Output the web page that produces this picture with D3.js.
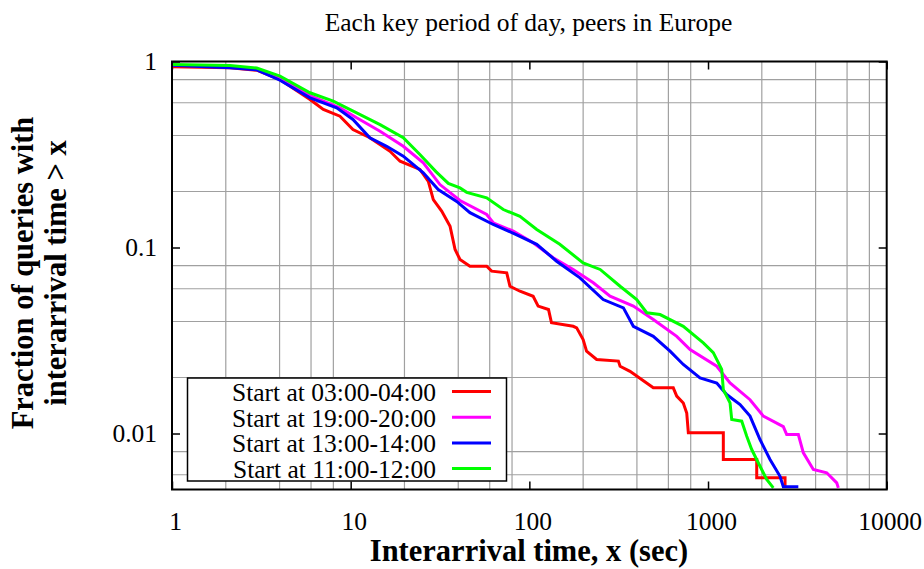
<!DOCTYPE html>
<html>
<head>
<meta charset="utf-8">
<script src="https://cdn.jsdelivr.net/npm/d3@7"></script>
<style>
  html, body { margin: 0; padding: 0; background: #fff; }
  svg { display: block; }
  text { font-family: "Liberation Serif", "Times New Roman", serif; fill: #000; }
</style>
</head>
<body>
<svg id="chart" width="924" height="569"></svg>
<script>
// ---- data ----
const seriesNames = [
  "Start at 03:00-04:00",
  "Start at 19:00-20:00",
  "Start at 13:00-14:00",
  "Start at 11:00-12:00"
];
const seriesColors = ["#ff0000", "#ff00ff", "#0000ff", "#00ff00"];

const red0304 = [[1,0.936],[2.11,0.925],[2.98,0.898],[4.02,0.80],[5.92,0.625],[7.03,0.552],[8.71,0.508],[10.3,0.431],[12.8,0.389],[16.6,0.329],[18.9,0.291],[24.4,0.263],[27.2,0.227],[29.0,0.181],[32.3,0.157],[36.0,0.130],[38.4,0.0976],[40.9,0.0862],[46.5,0.0793],[57.7,0.0793],[61.5,0.0746],[74.7,0.0731],[77.9,0.0619],[88.6,0.0582],[105,0.0547],[112,0.0484],[128,0.0464],[133,0.0394],[176,0.0377],[184,0.037],[200,0.032],[209,0.0277],[238,0.025],[315,0.0245],[322,0.023],[366,0.0216],[425,0.0195],[494,0.0176],[639,0.0176],[668,0.0159],[727,0.0146],[760,0.0129],[776,0.0101],[1218,0.0101],[1218,0.00725],[1873,0.00725],[1873,0.00578],[2698,0.00578],[2698,0.0051]];

const magenta1920 = [[1,0.955],[2.11,0.943],[2.98,0.911],[4.02,0.817],[5.92,0.656],[8.71,0.564],[10.8,0.498],[14.6,0.422],[19.7,0.35],[25.5,0.285],[31.6,0.218],[40.9,0.179],[57.7,0.1505],[62.8,0.1358],[81.3,0.1224],[105,0.106],[136,0.0881],[176,0.0762],[228,0.0646],[283,0.0547],[382,0.0484],[494,0.041],[668,0.0333],[793,0.0283],[1119,0.023],[1328,0.0187],[1718,0.0152],[2039,0.0124],[2639,0.0109],[2756,0.00988],[3202,0.00988],[3416,0.00787],[3885,0.0064],[4616,0.00615],[5253,0.00543],[5362,0.0051]];

const blue1314 = [[1,0.955],[2.11,0.925],[2.98,0.902],[4.02,0.793],[5.92,0.638],[8.35,0.564],[10.3,0.488],[12.8,0.389],[15.9,0.35],[19.7,0.31],[25.5,0.252],[30.9,0.205],[39.2,0.177],[46.5,0.154],[62.8,0.133],[85,0.117],[110,0.104],[142,0.0844],[192,0.0687],[259,0.0525],[336,0.0474],[382,0.0377],[494,0.0333],[613,0.0277],[727,0.0235],[902,0.0199],[1119,0.0187],[1272,0.0162],[1511,0.0143],[1718,0.0124],[1954,0.00928],[2223,0.00725],[2529,0.00589],[2639,0.00517],[3202,0.00517]];

const green1112 = [[1,0.964],[2.11,0.952],[2.98,0.923],[4.02,0.834],[5.92,0.679],[7.99,0.612],[10.8,0.53],[14.6,0.458],[19.7,0.389],[24.4,0.316],[30,0.256],[35.2,0.221],[40.9,0.209],[44.6,0.198],[57.7,0.185],[71.5,0.16],[88.6,0.147],[110,0.125],[148,0.104],[200,0.0827],[249,0.0762],[322,0.0619],[399,0.0525],[454,0.0446],[539,0.0436],[727,0.0377],[941,0.0307],[1070,0.0272],[1193,0.0221],[1218,0.0172],[1328,0.0146],[1357,0.0119],[1544,0.01165],[1647,0.00967],[1756,0.0082],[1954,0.00667],[2130,0.00566],[2320,0.0051]];

const seriesValues = [red0304, magenta1920, blue1314, green1112];

const xTickValues = [1, 10, 100, 1000, 10000];
const xTickLabels = ["1", "10", "100", "1000", "10000"];
const yTickValues = [0.01, 0.1, 1];
const yTickLabels = ["0.01", "0.1", "1"];
const gridMultiples = [2, 4, 6, 8];
const xDecades = [1, 10, 100, 1000];
const yDecades = [0.001, 0.01, 0.1];

const titleText = "Each key period of day, peers in Europe";
const xTitle = "Interarrival time, x (sec)";
const yTitleLines = ["Fraction of queries with", "interarrival time > x"];

// ---- layout ----
const L = 172, R = 886.7, T = 61.5, B = 489.5;
const svg = d3.select("#chart");

const x = d3.scaleLog().domain([1, 10000]).range([L, R]);
const y = d3.scaleLog().domain([0.005, 1]).range([B, T]);

// grid (at minor tick positions 2,4,6,8 of each decade)
const xGrid = [];
xDecades.forEach(d => gridMultiples.forEach(m => xGrid.push(d * m)));
const yGrid = [];
yDecades.forEach(d => gridMultiples.forEach(m => { const v = d * m; if (v >= 0.005 && v <= 1) yGrid.push(v); }));

const grid = svg.append("g").attr("stroke", "#a0a0a0").attr("stroke-width", 1.2);
grid.selectAll("line.gx").data(xGrid).join("line")
  .attr("x1", d => x(d)).attr("x2", d => x(d)).attr("y1", T).attr("y2", B);
grid.selectAll("line.gy").data(yGrid).join("line")
  .attr("x1", L).attr("x2", R).attr("y1", d => y(d)).attr("y2", d => y(d));

// axes (ticks inward, mirrored)
function styleAxis(g) {
  g.select(".domain").remove();
  g.selectAll(".tick line").attr("stroke", "#000").attr("stroke-width", 1.5);
  g.selectAll(".tick text").style("font-family", '"Liberation Serif", serif').style("font-size", "25.5px").attr("fill", "#000");
}
const xAxis = svg.append("g").attr("transform", `translate(0,${B})`)
  .call(d3.axisBottom(x).tickValues(xTickValues).tickSize(-8).tickPadding(22)
    .tickFormat((d, i) => xTickLabels[i]));
styleAxis(xAxis);
xAxis.selectAll(".tick text").attr("dx", 3);

const xAxisTop = svg.append("g").attr("transform", `translate(0,${T})`)
  .call(d3.axisTop(x).tickValues(xTickValues).tickSize(-8).tickFormat(""));
styleAxis(xAxisTop);

const yAxis = svg.append("g").attr("transform", `translate(${L},0)`)
  .call(d3.axisLeft(y).tickValues(yTickValues).tickSize(-8).tickPadding(15)
    .tickFormat((d, i) => yTickLabels[i]));
styleAxis(yAxis);

const yAxisRight = svg.append("g").attr("transform", `translate(${R},0)`)
  .call(d3.axisRight(y).tickValues(yTickValues).tickSize(-8).tickFormat(""));
styleAxis(yAxisRight);

// legend box (drawn over grid)
const legX = 187.5, legY = 378, legW = 319, legH = 103;
const leg = svg.append("g");
leg.append("rect").attr("x", legX).attr("y", legY).attr("width", legW).attr("height", legH)
  .attr("fill", "#fff").attr("stroke", "#000").attr("stroke-width", 1.5);
const rowH = 25.7;
seriesNames.forEach((name, i) => {
  const by = 401 + i * rowH;
  leg.append("text").attr("x", 436).attr("y", by).attr("text-anchor", "end")
    .style("font-size", "25.5px").text(name);
  leg.append("line").attr("x1", 452).attr("x2", 491).attr("y1", by - 9.5).attr("y2", by - 9.5)
    .attr("stroke", seriesColors[i]).attr("stroke-width", 3);
});

// curves
svg.append("clipPath").attr("id", "clip").append("rect")
  .attr("x", L).attr("y", T).attr("width", R - L).attr("height", B - T);
const line = d3.line().x(d => x(d[0])).y(d => y(d[1]));
const curves = svg.append("g").attr("clip-path", "url(#clip)");
seriesValues.forEach((vals, i) => {
  curves.append("path").datum(vals).attr("d", line)
    .attr("fill", "none").attr("stroke", seriesColors[i]).attr("stroke-width", 3)
    .attr("stroke-linejoin", "miter").attr("stroke-linecap", "butt");
});

// border
svg.append("rect").attr("x", L).attr("y", T).attr("width", R - L).attr("height", B - T)
  .attr("fill", "none").attr("stroke", "#000").attr("stroke-width", 2);

// titles
svg.append("text").attr("x", 528.5).attr("y", 31).attr("text-anchor", "middle")
  .style("font-size", "25.5px").text(titleText);
svg.append("text").attr("x", 529).attr("y", 561).attr("text-anchor", "middle")
  .style("font-size", "30.5px").style("font-weight", "bold").text(xTitle);
yTitleLines.forEach((t, i) => {
  svg.append("text").attr("transform", `translate(${33 + i * 33},273) rotate(-90)`)
    .attr("text-anchor", "middle").style("font-size", "30.5px").style("font-weight", "bold").text(t);
});
</script>
</body>
</html>
